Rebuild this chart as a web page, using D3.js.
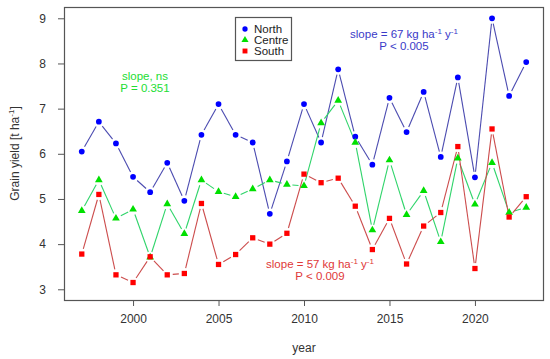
<!DOCTYPE html>
<html>
<head>
<meta charset="utf-8">
<script src="https://cdn.jsdelivr.net/npm/d3@7"></script>
<style>
  body { margin: 0; background: #fff; }
  svg { font-family: "Liberation Sans", Arial, sans-serif; }
</style>
</head>
<body>
<div id="graphicContainer"></div>
<script>

// data
var years = [1997,1998,1999,2000,2001,2002,2003,2004,2005,2006,2007,2008,2009,2010,
             2011,2012,2013,2014,2015,2016,2017,2018,2019,2020,2021,2022,2023]

var north  = [6.05,6.71,6.23,5.49,5.15,5.80,4.96,6.42,7.10,6.42,6.25,4.67,5.83,7.10,
              6.25,7.87,6.38,5.76,7.24,6.48,7.37,5.93,7.69,5.48,9.00,7.28,8.03]
var centre = [4.74,5.42,4.57,4.77,3.71,4.89,4.23,5.42,5.16,5.05,5.22,5.42,5.32,5.29,
              6.68,7.18,6.25,4.31,5.86,4.65,5.18,4.05,5.90,4.88,5.80,4.70,4.81]
var south  = [3.78,5.10,3.32,3.15,3.72,3.32,3.35,4.90,3.55,3.77,4.14,4.00,4.24,5.55,
              5.36,5.46,4.84,3.88,4.57,3.56,4.40,4.70,6.16,3.46,6.55,4.60,5.05]

var xTicks = [2000, 2005, 2010, 2015, 2020]
var yTicks = [3, 4, 5, 6, 7, 8, 9]

var seriesNames = ["North", "Centre", "South"]

var width = 550, height = 359
var box = {left: 64, top: 7, right: 544, bottom: 300}

var svg = d3.select("#graphicContainer").append("svg")
	.attr("width", width)
	.attr("height", height)

var x = d3.scaleLinear()
	.domain([1995.96, 2024.04])
	.range([box.left, box.right])

var y = d3.scaleLinear()
	.domain([2.763, 9.25])
	.range([box.bottom, box.top])

var axisCol = "#555"

// axes (R style)
var xAxis = svg.append("g")
	.attr("transform", "translate(0," + box.bottom + ")")
	.call(d3.axisBottom(x).tickValues(xTicks).tickFormat(d3.format("d")).tickSizeInner(6).tickSizeOuter(0).tickPadding(8))
xAxis.select(".domain").remove()

var yAxis = svg.append("g")
	.attr("transform", "translate(" + box.left + ",0)")
	.call(d3.axisLeft(y).tickValues(yTicks).tickFormat(d3.format("d")).tickSizeInner(6).tickSizeOuter(0).tickPadding(12))
yAxis.select(".domain").remove()

svg.selectAll(".tick line").attr("stroke", axisCol)
svg.selectAll(".tick text").attr("fill", "#333").attr("font-size", 12)
	.attr("font-family", "Liberation Sans, Arial, sans-serif")

svg.append("rect")
	.attr("x", box.left + 0.5)
	.attr("y", box.top + 0.5)
	.attr("width", box.right - box.left - 1)
	.attr("height", box.bottom - box.top)
	.attr("fill", "none")
	.attr("stroke", axisCol)
	.attr("stroke-width", 1.2)

svg.append("text")
	.attr("x", (box.left + box.right) / 2)
	.attr("y", 352)
	.attr("text-anchor", "middle")
	.attr("font-size", 12)
	.attr("fill", "#333")
	.text("year")

var yl = svg.append("text")
	.attr("transform", "translate(19," + ((box.top + box.bottom) / 2) + ")rotate(-90)")
	.attr("text-anchor", "middle")
	.attr("font-size", 12)
	.attr("fill", "#333")
yl.append("tspan").text("Grain yield [t ha")
yl.append("tspan").attr("dy", -5).attr("font-size", 8).text("-1")
yl.append("tspan").attr("dy", 5).text("]")

// series, R type="b": lines with gaps at the points
var series = [
	{name: "North",  values: north,  line: "#4b4bb0", pt: "#0000ff", shape: d3.symbolCircle,   size: 26},
	{name: "Centre", values: centre, line: "#2fd46a", pt: "#00e000", shape: d3.symbolTriangle, size: 26},
	{name: "South",  values: south,  line: "#cc4c4c", pt: "#ff0000", shape: d3.symbolSquare,   size: 28}
]

var gap = 5.5

series.forEach(function (s) {
	var g = svg.append("g")
	for (var i = 0; i < years.length - 1; i++) {
		var x1 = x(years[i]), y1 = y(s.values[i])
		var x2 = x(years[i + 1]), y2 = y(s.values[i + 1])
		var len = Math.sqrt((x2 - x1) * (x2 - x1) + (y2 - y1) * (y2 - y1))
		if (len <= 2 * gap) continue
		var ux = (x2 - x1) / len, uy = (y2 - y1) / len
		g.append("line")
			.attr("x1", x1 + ux * gap).attr("y1", y1 + uy * gap)
			.attr("x2", x2 - ux * gap).attr("y2", y2 - uy * gap)
			.attr("stroke", s.line)
			.attr("stroke-width", 1.1)
	}
})

series.forEach(function (s) {
	svg.append("g").selectAll("path")
		.data(years)
		.enter()
		.append("path")
		.attr("transform", function (d, i) { return "translate(" + x(d) + "," + y(s.values[i]) + ")" })
		.attr("d", d3.symbol().type(s.shape).size(s.size))
		.attr("fill", s.pt)
})

// legend
var legend = svg.append("g")
legend.append("rect")
	.attr("x", 235.5).attr("y", 17.5)
	.attr("width", 56).attr("height", 43)
	.attr("fill", "#fff")
	.attr("stroke", "#555")
	.attr("stroke-width", 1.2)

series.forEach(function (s, i) {
	var ly = 29 + i * 11
	legend.append("path")
		.attr("transform", "translate(245," + ly + ")")
		.attr("d", d3.symbol().type(s.shape).size(s.size - 4))
		.attr("fill", s.pt)
	legend.append("text")
		.attr("x", 254)
		.attr("y", ly + 4)
		.attr("font-size", 11.5)
		.attr("fill", "#222")
		.text(seriesNames[i])
})

// slope annotations
function slopeNote(cx, cy, col, first, second, sup) {
	var t = svg.append("text")
		.attr("x", cx).attr("y", cy)
		.attr("text-anchor", "middle")
		.attr("font-size", 11.5)
		.attr("fill", col)
	if (sup) {
		t.append("tspan").text(first + " ha")
		t.append("tspan").attr("dy", -4).attr("font-size", 8).text("-1")
		t.append("tspan").attr("dy", 4).text(" y")
		t.append("tspan").attr("dy", -4).attr("font-size", 8).text("-1")
	} else {
		t.text(first)
	}
	svg.append("text")
		.attr("x", cx).attr("y", cy + 12)
		.attr("text-anchor", "middle")
		.attr("font-size", 11.5)
		.attr("fill", col)
		.text(second)
}

slopeNote(404, 38, "#3a3ac8", "slope = 67 kg", "P < 0.005", true)
slopeNote(145, 80, "#22dd33", "slope, ns", "P = 0.351", false)
slopeNote(320, 268, "#e03838", "slope = 57 kg", "P < 0.009", true)

</script>
</body>
</html>
